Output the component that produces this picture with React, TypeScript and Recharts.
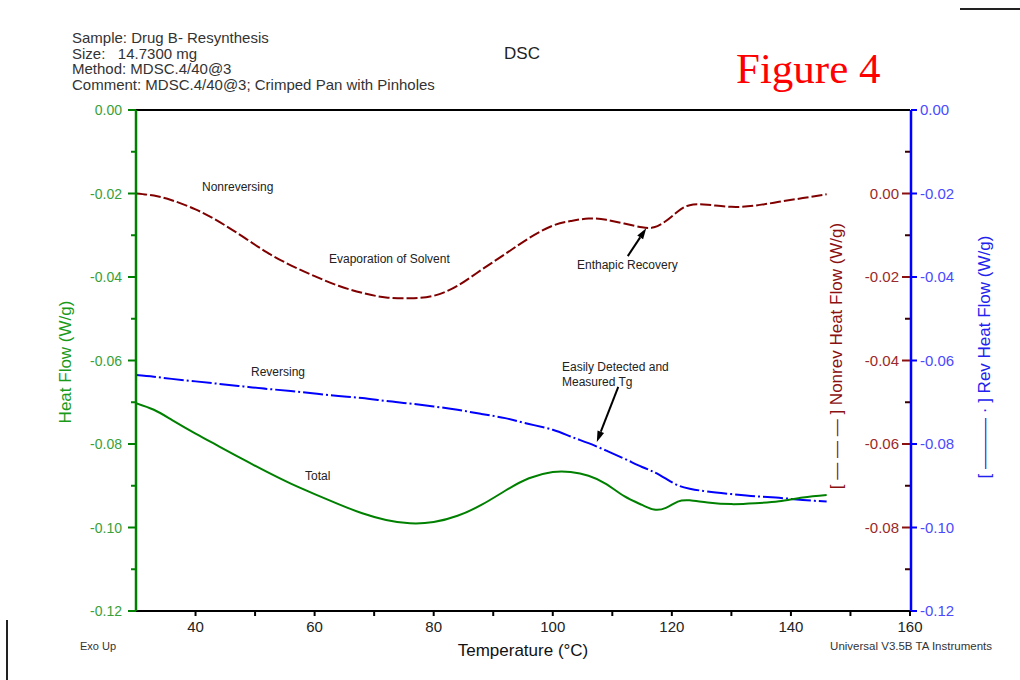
import { ComposedChart, Line, XAxis, YAxis, ReferenceLine } from 'recharts'

// temperature grid (°C) and the three MDSC signals
const temperature = [30, 33, 36, 40, 44, 48, 52, 56, 60, 64, 68, 72, 76, 80, 84, 88, 92, 96, 100, 103, 106, 109, 112, 115, 117, 119, 121, 123, 126, 130, 134, 138, 142, 146]
const totalFlow = [-0.0702, -0.0718, -0.0742, -0.0775, -0.0806, -0.0837, -0.0867, -0.0895, -0.0920, -0.0944, -0.0966, -0.0982, -0.0990, -0.0987, -0.0972, -0.0946, -0.0912, -0.0882, -0.0867, -0.0867, -0.0876, -0.0896, -0.0925, -0.0946, -0.0957, -0.0953, -0.0938, -0.0935, -0.0940, -0.0944, -0.0942, -0.0937, -0.0928, -0.0922]
const reversingFlow = [-0.0635, -0.0639, -0.0644, -0.0650, -0.0656, -0.0662, -0.0668, -0.0673, -0.0679, -0.0685, -0.0690, -0.0697, -0.0703, -0.0710, -0.0718, -0.0728, -0.0738, -0.0752, -0.0766, -0.0782, -0.0798, -0.0816, -0.0835, -0.0855, -0.0867, -0.0883, -0.0899, -0.0907, -0.0914, -0.0920, -0.0925, -0.0929, -0.0934, -0.0938]
const nonrevFlow = [0.0000, -0.0005, -0.0016, -0.0038, -0.0068, -0.0104, -0.0141, -0.0172, -0.0198, -0.0221, -0.0238, -0.0249, -0.0251, -0.0245, -0.0221, -0.0183, -0.0145, -0.0107, -0.0077, -0.0066, -0.0060, -0.0063, -0.0072, -0.0081, -0.0081, -0.0066, -0.0043, -0.0028, -0.0027, -0.0032, -0.0029, -0.0020, -0.0011, -0.0002]

const tempTicks = [40, 50, 60, 70, 80, 90, 100, 110, 120, 130, 140, 150, 160]
const leftTicks = [0, -1, -2, -3, -4, -5, -6, -7, -8, -9, -10, -11, -12].map(i => i / 100)
const nonrevTicks = [1, 0, -1, -2, -3, -4, -5, -6, -7, -8, -9].map(i => i / 100)
const revTicks = [0, -2, -4, -6, -8, -10, -12].map(i => i / 100)

const rows = temperature.map((t, i) => ({ t, total: totalFlow[i], rev: reversingFlow[i], nonrev: nonrevFlow[i] }))

const FONT = "'Liberation Sans', Arial, sans-serif"
const isMajor = (v: number) => Math.round(v * 100) % 2 === 0

function TempTick({ x, y, payload }: any) {
  const v = payload.value
  return (
    <g>
      <line x1={x} x2={x} y1={y} y2={y + 5} stroke="#000" strokeWidth={2} />
      {v % 20 === 0 && <text x={x} y={y + 21} textAnchor="middle" fontSize={15} fontFamily={FONT} fill="#222">{v}</text>}
    </g>
  )
}

function LeftTick({ x, y, payload }: any) {
  const v = payload.value
  const major = isMajor(v)
  return (
    <g>
      <line x1={x} x2={x - (major ? 8 : 5)} y1={y} y2={y} stroke="#008000" strokeWidth={2} />
      {major && <text x={x - 14} y={y + 5} textAnchor="end" fontSize={14} fontFamily={FONT} fill="#3aa03a">{v.toFixed(2)}</text>}
    </g>
  )
}

function NonrevTick({ x, y, payload }: any) {
  const v = payload.value
  const major = isMajor(v)
  return (
    <g>
      <line x1={x} x2={x - (major ? 8 : 5)} y1={y} y2={y} stroke={major ? '#8b1010' : '#3a0000'} strokeWidth={2} />
      {major && <text x={x - 11} y={y + 5} textAnchor="end" fontSize={15} fontFamily={FONT} fill="#9a2a2a">{v.toFixed(2)}</text>}
    </g>
  )
}

function RevTick({ x, y, payload }: any) {
  const v = payload.value
  return (
    <g>
      <line x1={x} x2={x + 6} y1={y} y2={y} stroke="#0000ff" strokeWidth={2} />
      <text x={x + 9} y={y + 5} textAnchor="start" fontSize={15} fontFamily={FONT} fill="#4a4aff">{v.toFixed(2)}</text>
    </g>
  )
}

function Arrow(props: any) {
  const { x1, y1, x2, y2 } = props
  const a = Math.atan2(y2 - y1, x2 - x1)
  const L = 11, W = 3.5
  const bx = x2 - L * Math.cos(a), by = y2 - L * Math.sin(a)
  const pts = `${x2},${y2} ${bx + W * Math.sin(a)},${by - W * Math.cos(a)} ${bx - W * Math.sin(a)},${by + W * Math.cos(a)}`
  return (
    <g>
      <line x1={x1} y1={y1} x2={bx} y2={by} stroke="#000" strokeWidth={2} />
      <polygon points={pts} fill="#000" />
    </g>
  )
}

const note = { fontSize: 12, fontFamily: FONT, fill: '#222' }

export default function App() {
  return (
    <div style={{ position: 'absolute', left: 0, top: 0, width: 1020, height: 680, background: '#fff' }}>
      <ComposedChart width={1020} height={680} data={rows} margin={{ top: 110, left: 76, right: 49, bottom: 39 }}>
        <XAxis dataKey="t" type="number" domain={[30, 160]} ticks={tempTicks} interval={0} height={30}
          tickSize={0} tickMargin={0} tick={<TempTick />} axisLine={{ stroke: '#000', strokeWidth: 2 }} allowDataOverflow />
        <YAxis yAxisId="left" orientation="left" width={60} domain={[-0.12, 0]} ticks={leftTicks} interval={0}
          tickSize={0} tickMargin={0} tick={<LeftTick />} axisLine={{ stroke: '#008000', strokeWidth: 2.5 }} allowDataOverflow />
        <YAxis yAxisId="nonrev" orientation="right" width={1} domain={[-0.10, 0.02]} ticks={nonrevTicks} interval={0}
          tickSize={0} tickMargin={0} tick={<NonrevTick />} axisLine={false} allowDataOverflow />
        <YAxis yAxisId="rev" orientation="right" width={60} domain={[-0.12, 0]} ticks={revTicks} interval={0}
          tickSize={0} tickMargin={0} tick={<RevTick />} axisLine={{ stroke: '#0000ff', strokeWidth: 2.5 }} allowDataOverflow />
        <ReferenceLine yAxisId="left" y={0} stroke="#000" strokeWidth={2} />
        <Line yAxisId="nonrev" dataKey="nonrev" type="natural" stroke="#800000" strokeWidth={2} strokeDasharray="11 3" dot={false} isAnimationActive={false} />
        <Line yAxisId="rev" dataKey="rev" type="natural" stroke="#0000ff" strokeWidth={2} strokeDasharray="20 3 2 3" dot={false} isAnimationActive={false} />
        <Line yAxisId="left" dataKey="total" type="natural" stroke="#008000" strokeWidth={2} dot={false} isAnimationActive={false} />
        <ReferenceLine yAxisId="left" segment={[{ x: 112.6, y: -0.0350 }, { x: 115.7, y: -0.0283 }]} shape={<Arrow />} />
        <ReferenceLine yAxisId="left" segment={[{ x: 111.0, y: -0.0663 }, { x: 107.4, y: -0.0795 }]} shape={<Arrow />} />
      </ComposedChart>
      <svg width={1020} height={680} style={{ position: 'absolute', left: 0, top: 0, pointerEvents: 'none' }}>
        <line x1={960} x2={1020} y1={9} y2={9} stroke="#222" strokeWidth={2} />
        <line x1={7} x2={7} y1={620} y2={680} stroke="#222" strokeWidth={2} />
        <g fontFamily={FONT} fontSize={15} fill="#333">
          <text x={72} y={43}>Sample: Drug B- Resynthesis</text>
          <text x={72} y={58.5} style={{ whiteSpace: 'pre' }}>{'Size:   14.7300 mg'}</text>
          <text x={72} y={74}>Method: MDSC.4/40@3</text>
          <text x={72} y={89.5}>Comment: MDSC.4/40@3; Crimped Pan with Pinholes</text>
        </g>
        <text x={522} y={59} textAnchor="middle" fontFamily={FONT} fontSize={17} fill="#222">DSC</text>
        <text x={736} y={83} fontFamily="'Liberation Serif', 'Times New Roman', serif" fontSize={43} fill="#ff0000">Figure 4</text>
        <text transform="translate(71,362) rotate(-90)" textAnchor="middle" fontFamily={FONT} fontSize={17} fill="#1a9a1a">Heat Flow (W/g)</text>
        <text transform="translate(842,356) rotate(-90)" textAnchor="middle" fontFamily={FONT} fontSize={17} fill="#8b1010" style={{ whiteSpace: 'pre' }}>{'[ — — — ] Nonrev Heat Flow (W/g)'}</text>
        <text transform="translate(990,357) rotate(-90)" textAnchor="middle" fontFamily={FONT} fontSize={17} fill="#2222ee" style={{ whiteSpace: 'pre' }}>{'[ ——— · ] Rev Heat Flow (W/g)'}</text>
        <text x={523} y={656} textAnchor="middle" fontFamily={FONT} fontSize={17} fill="#111">Temperature (°C)</text>
        <text x={80} y={650} fontFamily={FONT} fontSize={11} fill="#333">Exo Up</text>
        <text x={992} y={650} textAnchor="end" fontFamily={FONT} fontSize={11.5} fill="#333">Universal V3.5B TA Instruments</text>
        <text x={202} y={191} {...note}>Nonreversing</text>
        <text x={329} y={263} {...note}>Evaporation of Solvent</text>
        <text x={577} y={269} {...note}>Enthapic Recovery</text>
        <text x={251} y={376} {...note}>Reversing</text>
        <text x={305} y={480} {...note}>Total</text>
        <text x={562} y={371} {...note}>Easily Detected and</text>
        <text x={562} y={386} {...note}>Measured Tg</text>
      </svg>
    </div>
  )
}
